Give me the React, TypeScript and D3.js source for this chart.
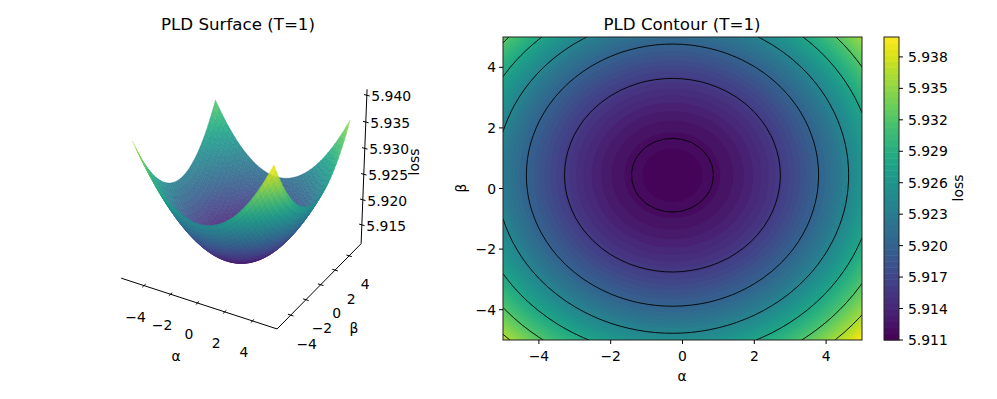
// App.tsx - PLD loss surface and contour, T=1
import React from 'react';
import * as d3 from 'd3';

const FONT = '"DejaVu Sans", sans-serif';

const alphaGrid = d3.range(0, 41).map(i => -5 + i * 0.25);
const betaGrid = d3.range(0, 41).map(j => -5 + j * 0.25);

const lossFloor = 5.9112;

// rise above lossFloor in units of 1e-3, walking along alpha
const riseAlongAlpha = [
  11.83, 10.61, 9.456, 8.369, 7.348, 6.394, 5.506, 4.684, 3.929, 3.24, 2.617,
  2.061, 1.571, 1.147, 0.79, 0.5, 0.275, 0.117, 0.026, 0.0, 0.042, 0.149, 0.323,
  0.563, 0.87, 1.243, 1.682, 2.188, 2.76, 3.399, 4.104, 4.875, 5.713, 6.617,
  7.587, 8.624, 9.727, 10.897, 12.132, 13.435, 14.803,
];

// same, walking along beta
const riseAlongBeta = [
  13.909, 12.66, 11.47, 10.338, 9.266, 8.251, 7.296, 6.4, 5.562, 4.783, 4.063,
  3.401, 2.798, 2.254, 1.769, 1.342, 0.975, 0.666, 0.415, 0.224, 0.091, 0.017,
  0.002, 0.045, 0.148, 0.308, 0.528, 0.807, 1.144, 1.54, 1.995, 2.508, 3.08,
  3.711, 4.401, 5.149, 5.957, 6.823, 7.747, 8.731, 9.773,
];

const contourLineLevels = [5.9119, 5.916, 5.92, 5.924, 5.928, 5.932, 5.936];
const colorbarTicks = [5.911, 5.914, 5.917, 5.92, 5.923, 5.926, 5.929, 5.932, 5.935, 5.938];
const zTicks = [5.915, 5.92, 5.925, 5.93, 5.935, 5.94];
const alphaTicks = [-4, -2, 0, 2, 4];
const betaTicks = [-4, -2, 0, 2, 4];
const contourTicks = [-4, -2, 0, 2, 4];

const colorMin = 5.911;
const colorMax = 5.9399;
const nBands = 50;

const lossAt = (i: number, j: number) =>
  lossFloor + (riseAlongAlpha[i] + riseAlongBeta[j]) / 1000;

const fmtTick = (v: number) => String(v).replace('-', '\u2212');

const color = d3.scaleSequential(d3.interpolateViridis).domain([colorMin, colorMax]);
const bandLevels = d3.range(0, nBands + 1).map(i => colorMin + (i * (colorMax - colorMin)) / nBands);

// ---- 3D projection, same setup as mplot3d (elev 30, azim -60, dist 10)
const elev = (30 * Math.PI) / 180;
const azim = (-60 * Math.PI) / 180;
const dist = 10;
const uVec = [-Math.sin(azim), Math.cos(azim), 0];
const vVec = [-Math.sin(elev) * Math.cos(azim), -Math.sin(elev) * Math.sin(azim), Math.cos(elev)];
const wVec = [Math.cos(elev) * Math.cos(azim), Math.cos(elev) * Math.sin(azim), Math.sin(elev)];

const zLow = 5.9112;
const zHigh = 5.9411;
const xNorm = d3.scaleLinear().domain([-5.75, 5.75]).range([-0.5, 0.5]);
const yNorm = d3.scaleLinear().domain([-5.75, 5.75]).range([-0.5, 0.5]);
const zNorm = d3.scaleLinear().domain([zLow, zHigh]).range([-0.5, 0.5]);
const screenX = d3.scaleLinear().domain([-1, 1]).range([63, 423]);
const screenY = d3.scaleLinear().domain([-1, 1]).range([364.6, 4.6]);

const dot = (a: number[], b: number[]) => a[0] * b[0] + a[1] * b[1] + a[2] * b[2];

const project = (a: number, b: number, z: number) => {
  const p = [xNorm(a), yNorm(b), zNorm(z)];
  const depth = dot(p, wVec);
  const k = dist / (dist - depth);
  return { x: screenX(dot(p, uVec) * k), y: screenY(dot(p, vVec) * k), depth };
};

const facets = (() => {
  const out: { d: string; fill: string; depth: number }[] = [];
  const line = d3.line();
  for (let i = 0; i < alphaGrid.length - 1; i++) {
    for (let j = 0; j < betaGrid.length - 1; j++) {
      const corners: [number, number][] = [
        [i, j],
        [i + 1, j],
        [i + 1, j + 1],
        [i, j + 1],
      ];
      const pts = corners.map(([a, b]) => project(alphaGrid[a], betaGrid[b], lossAt(a, b)));
      out.push({
        d: line(pts.map(p => [p.x, p.y] as [number, number])) + 'Z',
        fill: color(d3.mean(corners, ([a, b]) => lossAt(a, b)) as number),
        depth: d3.mean(pts, p => p.depth) as number,
      });
    }
  }
  return out.sort((a, b) => a.depth - b.depth);
})();

// ---- contour panel
const plot = { left: 503, right: 862, top: 37, bottom: 340 };
const xScale = d3.scaleLinear().domain([-5, 5]).range([plot.left, plot.right]);
const yScale = d3.scaleLinear().domain([-5, 5]).range([plot.bottom, plot.top]);

const field: number[] = [];
betaGrid.forEach((_, j) => alphaGrid.forEach((__, i) => field.push(lossAt(i, j))));

// d3.contours puts sample i at x = i + 0.5
const gridX = d3.scaleLinear().domain([0.5, 40.5]).range([plot.left, plot.right]);
const gridY = d3.scaleLinear().domain([0.5, 40.5]).range([plot.bottom, plot.top]);
const contourPath = d3.geoPath(
  d3.geoTransform({
    point(x: number, y: number) {
      (this as any).stream.point(gridX(x), gridY(y));
    },
  })
);
const contourGen = d3.contours().size([alphaGrid.length, betaGrid.length]).smooth(true);
const bandShapes = contourGen.thresholds(bandLevels.slice(0, -1))(field);
const lineShapes = contourGen.thresholds(contourLineLevels)(field);

// ---- colorbar
const cbar = { left: 884, right: 899 };
const cbarY = d3.scaleLinear().domain([colorMin, colorMax]).range([plot.bottom, plot.top]);

const Txt = ({ x, y, children, size = 13.9, anchor = 'middle', rotate }: any) => (
  <text
    x={x}
    y={y}
    fontFamily={FONT}
    fontSize={size}
    textAnchor={anchor}
    fill="#000"
    transform={rotate ? `rotate(${rotate} ${x} ${y})` : undefined}
  >
    {children}
  </text>
);

const Surface3D = () => {
  const aStart = project(-5.75, -5.75, zLow);
  const corner = project(5.75, -5.75, zLow);
  const bEnd = project(5.75, 5.75, zLow);
  const zEnd = project(5.75, 5.75, zHigh);
  const axisLine = (p: any, q: any) => (
    <line x1={p.x} y1={p.y} x2={q.x} y2={q.y} stroke="#000" strokeWidth={1} />
  );
  return (
    <g>
      {facets.map((f, i) => (
        <path key={i} d={f.d} fill={f.fill} fillOpacity={0.9} stroke={f.fill} strokeOpacity={0.55} strokeWidth={0.6} />
      ))}
      {axisLine(aStart, corner)}
      {axisLine(corner, bEnd)}
      {axisLine(bEnd, zEnd)}
      {alphaTicks.map(t => {
        const p = project(t, -5.75, zLow);
        const a = project(t, -5.95, zLow);
        const b = project(t, -5.55, zLow);
        return (
          <g key={t}>
            {axisLine(a, b)}
            <Txt x={p.x - 8.5} y={p.y + 36}>{fmtTick(t)}</Txt>
          </g>
        );
      })}
      {betaTicks.map(t => {
        const p = project(5.75, t, zLow);
        const a = project(5.55, t, zLow);
        const b = project(5.95, t, zLow);
        return (
          <g key={t}>
            {axisLine(a, b)}
            <Txt x={p.x + 16} y={p.y + 33.5}>{fmtTick(t)}</Txt>
          </g>
        );
      })}
      {zTicks.map(t => {
        const p = project(5.75, 5.75, t);
        const a = project(5.55, 5.75, t);
        const b = project(5.95, 5.75, t);
        return (
          <g key={t}>
            {axisLine(a, b)}
            <Txt x={p.x + 4.5} y={p.y + 6} anchor="start">{t.toFixed(3)}</Txt>
          </g>
        );
      })}
      <Txt x={176} y={361}>α</Txt>
      <Txt x={354} y={333}>β</Txt>
      <Txt x={419} y={162} rotate={-90}>loss</Txt>
      <Txt x={238} y={30} size={16.67}>PLD Surface (T=1)</Txt>
    </g>
  );
};

const ContourPanel = () => (
  <g>
    <clipPath id="plot-clip">
      <rect x={plot.left} y={plot.top} width={plot.right - plot.left} height={plot.bottom - plot.top} />
    </clipPath>
    <g clipPath="url(#plot-clip)">
      <rect
        x={plot.left}
        y={plot.top}
        width={plot.right - plot.left}
        height={plot.bottom - plot.top}
        fill={color(bandLevels[0])}
      />
      {bandShapes.map((s, i) => (
        <path key={i} d={contourPath(s) as string} fill={color((bandLevels[i] + bandLevels[i + 1]) / 2)} />
      ))}
      {lineShapes.map((s, i) => (
        <path key={i} d={contourPath(s) as string} fill="none" stroke="#000" strokeWidth={0.9} />
      ))}
    </g>
    <rect
      x={plot.left}
      y={plot.top}
      width={plot.right - plot.left}
      height={plot.bottom - plot.top}
      fill="none"
      stroke="#222"
      strokeWidth={1}
    />
    {contourTicks.map(t => (
      <g key={t}>
        <line x1={xScale(t)} x2={xScale(t)} y1={plot.bottom} y2={plot.bottom + 4} stroke="#000" />
        <Txt x={xScale(t)} y={plot.bottom + 21}>{fmtTick(t)}</Txt>
        <line x1={plot.left - 4} x2={plot.left} y1={yScale(t)} y2={yScale(t)} stroke="#000" />
        <Txt x={plot.left - 7} y={yScale(t) + 5} anchor="end">{fmtTick(t)}</Txt>
      </g>
    ))}
    <Txt x={682} y={381}>α</Txt>
    <Txt x={466} y={188} rotate={-90}>β</Txt>
    <Txt x={682} y={30} size={16.67}>PLD Contour (T=1)</Txt>
  </g>
);

const Colorbar = () => (
  <g>
    {bandLevels.slice(0, -1).map((lv, i) => (
      <rect
        key={i}
        x={cbar.left}
        width={cbar.right - cbar.left}
        y={cbarY(bandLevels[i + 1])}
        height={cbarY(lv) - cbarY(bandLevels[i + 1]) + 0.5}
        fill={color((lv + bandLevels[i + 1]) / 2)}
      />
    ))}
    <rect
      x={cbar.left}
      y={plot.top}
      width={cbar.right - cbar.left}
      height={plot.bottom - plot.top}
      fill="none"
      stroke="#222"
      strokeWidth={1}
    />
    {colorbarTicks.map(t => (
      <g key={t}>
        <line x1={cbar.right} x2={cbar.right + 4} y1={cbarY(t)} y2={cbarY(t)} stroke="#000" />
        <Txt x={cbar.right + 9} y={cbarY(t) + 5} anchor="start">{t.toFixed(3)}</Txt>
      </g>
    ))}
    <Txt x={963} y={188} rotate={-90}>loss</Txt>
  </g>
);

export default function App() {
  return (
    <svg width={997} height={399} style={{ position: 'absolute', left: 0, top: 0, background: '#fff' }}>
      <Surface3D />
      <ContourPanel />
      <Colorbar />
    </svg>
  );
}
